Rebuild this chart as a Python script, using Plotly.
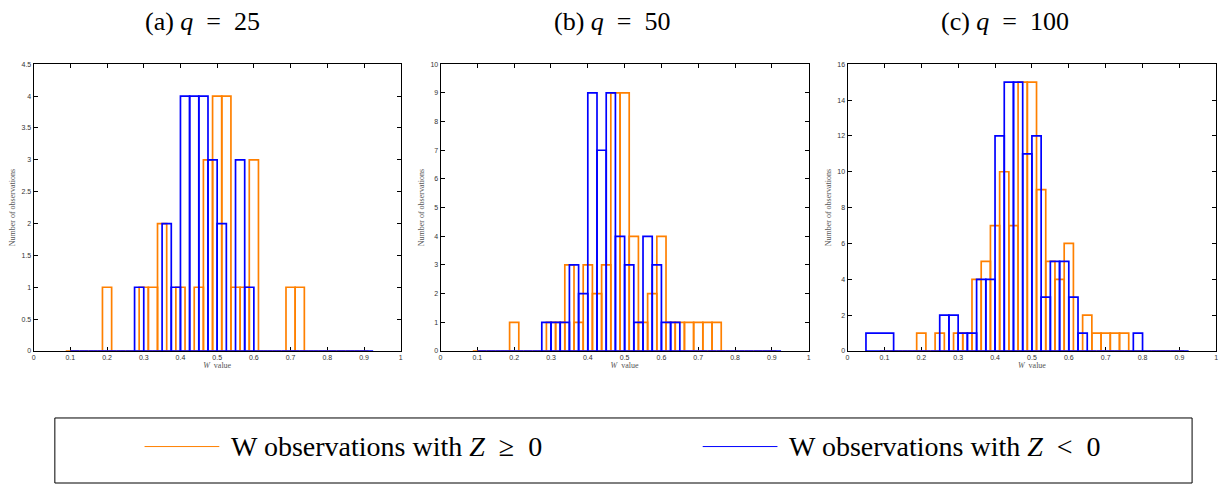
import numpy as np
import plotly.graph_objects as go

# ---------------- data (bin edges + counts) ----------------
panel_titles = ["(a) <i>q</i> = 25", "(b) <i>q</i> = 50", "(c) <i>q</i> = 100"]
y_max = [4.5, 10, 16]
y_dtick = [0.5, 1, 2]

# orange: W observations with Z >= 0, bins of width 0.025 starting at 0.0875
orange_edges = list(np.round(np.arange(0.0875, 0.9126, 0.025), 4))
orange_a = [0, 0, 0, 0, 1, 0, 0, 0, 1, 1, 2, 0, 1, 0, 1, 3, 4, 4, 1, 1, 3, 0, 0, 0, 1, 1, 0, 0, 0, 0, 0, 0, 0]
orange_b = [0, 0, 0, 0, 1, 0, 0, 0, 1, 1, 3, 1, 3, 2, 3, 9, 9, 4, 1, 2, 4, 1, 1, 1, 1, 1, 1, 0, 0, 0, 0, 0, 0]
orange_c = [0, 0, 0, 0, 1, 0, 1, 0, 1, 1, 4, 5, 7, 10, 7, 15, 15, 9, 5, 4, 6, 0, 2, 1, 1, 1, 1, 0, 0, 0, 0, 0, 0]

# blue: W observations with Z < 0, bins of width 0.025 starting at 0.1
blue_edges = list(np.round(np.arange(0.1, 0.9251, 0.025), 4))
blue_a = [0, 0, 0, 0, 0, 0, 0, 1, 0, 0, 2, 1, 4, 4, 4, 3, 2, 0, 3, 1, 0, 0, 0, 0, 0, 0, 0, 0, 0, 0, 0, 0, 0]
blue_b = [0, 0, 0, 0, 0, 0, 0, 1, 1, 1, 3, 2, 9, 7, 9, 4, 3, 1, 4, 3, 1, 1, 0, 0, 0, 0, 0, 0, 0, 0, 0, 0, 0]
# panel (c): the first blue bin is one wide bin 0.05-0.125
blue_c_edges = [0.05] + list(np.round(np.arange(0.125, 0.9251, 0.025), 4))
blue_c = [1, 0, 0, 0, 0, 0, 2, 2, 1, 1, 4, 4, 12, 15, 15, 11, 12, 3, 5, 5, 3, 1, 0, 0, 0, 0, 0, 1, 0, 0, 0, 0, 0]

orange_series = [(orange_edges, orange_a), (orange_edges, orange_b), (orange_edges, orange_c)]
blue_series = [(blue_edges, blue_a), (blue_edges, blue_b), (blue_c_edges, blue_c)]

legend_labels = ["W observations with <i>Z</i> ≥ 0", "W observations with <i>Z</i> < 0"]

ORANGE = "#ff8000"
BLUE = "#0000ff"

# ---------------- layout helpers ----------------
# the page body keeps its default 8px margin, so the figure is sized to fit inside
OFF = 8
W, H = 1228 - 2 * OFF, 495 - 2 * OFF
def px(x):
    return (x - OFF) / W
def py(y):
    return 1 - (y - OFF) / H

panel_x = [(31.7, 400.0), (440.0, 809.3), (848.3, 1218.3)]
panel_y = (61.0, 352.0)
title_cx = [201, 612, 1006]


def outline(edges, counts):
    xs, ys = [], []
    for i, h in enumerate(counts):
        l, r = edges[i], edges[i + 1]
        xs += [l, l, r, r, l, None]
        ys += [0, h, h, 0, 0, None]
    return xs, ys


fig = go.Figure()
layout = dict(
    width=W, height=H,
    margin=dict(l=0, r=0, t=0, b=0),
    paper_bgcolor="white", plot_bgcolor="white",
    showlegend=False,
)

annotations = []
shapes = []
tickfont = dict(family="Liberation Sans, Arial", size=7, color="#333333")
for p in range(3):
    ax = "" if p == 0 else str(p + 1)
    for (edges, counts), color in ((orange_series[p], ORANGE), (blue_series[p], BLUE)):
        xs, ys = outline(edges, counts)
        fig.add_trace(go.Scatter(x=xs, y=ys, mode="lines",
                                 line=dict(color=color, width=1.7),
                                 xaxis="x" + ax, yaxis="y" + ax, hoverinfo="skip"))
    layout["xaxis" + ax] = dict(
        domain=[px(panel_x[p][0]), px(panel_x[p][1])], anchor="y" + ax,
        range=[0, 1], dtick=0.1, tick0=0, showgrid=False, zeroline=False,
        showline=True, linecolor="black", linewidth=1, mirror="allticks",
        ticks="inside", ticklen=4, tickcolor="black", tickwidth=1,
        tickfont=tickfont, layer="below traces",
        title=dict(text="<i>W</i>  value", standoff=2,
                   font=dict(family="Liberation Serif", size=8, color="#555555")),
    )
    layout["yaxis" + ax] = dict(
        domain=[py(panel_y[1]), py(panel_y[0])], anchor="x" + ax,
        range=[0, y_max[p]], dtick=y_dtick[p], tick0=0, showgrid=False, zeroline=False,
        showline=True, linecolor="black", linewidth=1, mirror="allticks",
        ticks="inside", ticklen=4, tickcolor="black", tickwidth=1,
        tickfont=tickfont, layer="below traces",
        title=dict(text="Number of observations", standoff=4,
                   font=dict(family="Liberation Serif", size=8, color="#555555")),
    )
    annotations.append(dict(text=panel_titles[p].replace(" = ", "&nbsp;&nbsp;=&nbsp;&nbsp;"),
                            x=px(title_cx[p]), y=py(18),
                            xref="paper", yref="paper", showarrow=False,
                            xanchor="center", yanchor="middle",
                            font=dict(family="Liberation Serif", size=26, color="black")))

# legend box
shapes.append(dict(type="rect", xref="paper", yref="paper",
                   x0=px(53), x1=px(1194), y0=py(486), y1=py(420),
                   line=dict(color="black", width=1), fillcolor="white"))
for (x0, x1, tx), color, label in zip(((143, 218, 228), (703, 778, 788)), (ORANGE, BLUE), legend_labels):
    shapes.append(dict(type="line", xref="paper", yref="paper",
                       x0=px(x0), x1=px(x1), y0=py(449), y1=py(449),
                       line=dict(color=color, width=1)))
    annotations.append(dict(text=label.replace(" < ", "&nbsp;&nbsp;<&nbsp;&nbsp;").replace(" ≥ ", "&nbsp;&nbsp;≥&nbsp;&nbsp;"),
                            x=px(tx), y=py(449), xref="paper", yref="paper",
                            showarrow=False, xanchor="left", yanchor="middle",
                            font=dict(family="Liberation Serif", size=28, color="black")))

layout["annotations"] = annotations
layout["shapes"] = shapes
fig.update_layout(**layout)
fig.write_html("out.html")
